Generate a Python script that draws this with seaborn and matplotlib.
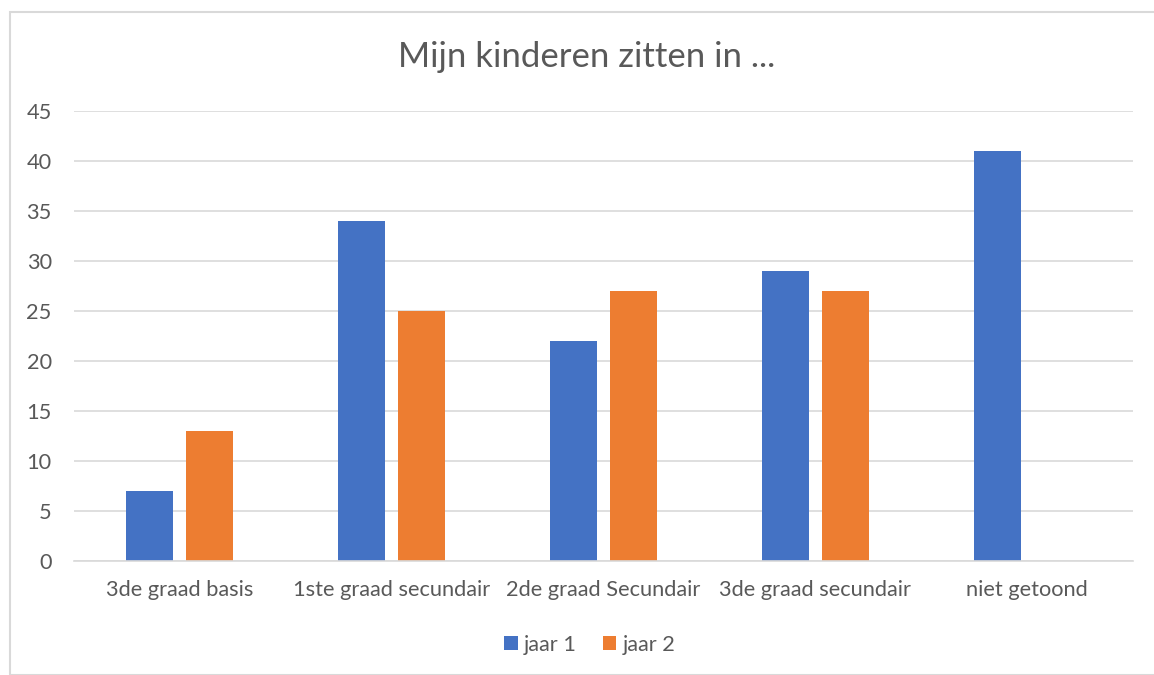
import matplotlib
matplotlib.use("Agg")
import matplotlib.pyplot as plt
import seaborn as sns
import pandas as pd
import numpy as np
from matplotlib.patches import Rectangle

categories = ["3de graad basis", "1ste graad secundair", "2de graad Secundair", "3de graad secundair", "niet getoond"]
jaar1 = [7, 34, 22, 29, 41]
jaar2 = [13, 25, 27, 27, np.nan]
series = ["jaar 1", "jaar 2"]
title = "Mijn kinderen zitten in ..."

df = pd.DataFrame({
    "cat": categories * 2,
    "val": jaar1 + jaar2,
    "serie": [series[0]] * len(categories) + [series[1]] * len(categories),
})

sns.set_theme(style="white")
plt.rcParams["font.family"] = ["Lato", "DejaVu Sans"]
text_col = "#595959"

fig = plt.figure(figsize=(11.54, 6.75), dpi=100)
ax = fig.add_axes([74/1154, 1-561/675, (1133-74)/1154, (561-111)/675])

sns.barplot(data=df, x="cat", y="val", hue="serie", order=categories, hue_order=series,
            palette=["#4472C4", "#ED7D31"], width=0.566, gap=0.215, ax=ax,
            saturation=1, errorbar=None, legend=True, linewidth=0)

ax.set_xlim(-0.5, len(categories) - 0.5)
ax.set_ylim(0, 45)
ax.set_yticks(range(0, 46, 5))
ax.yaxis.grid(True, color="#D9D9D9", linewidth=1.2)
ax.set_axisbelow(True)
for s in ["top", "right", "left"]:
    ax.spines[s].set_visible(False)
ax.spines["bottom"].set_color("#D9D9D9")
ax.spines["bottom"].set_linewidth(1.2)
ax.set_xlabel("")
ax.set_ylabel("")
ax.tick_params(axis="both", length=0, labelsize=15.7, labelcolor=text_col)
ax.tick_params(axis="y", pad=16)
ax.tick_params(axis="x", pad=14)

fig.text(587/1154, 1-57/675, title, ha="center", va="center", fontsize=25, color=text_col)

leg = ax.legend(loc="center", bbox_to_anchor=(590/1154, 1-645/675), bbox_transform=fig.transFigure,
                ncol=2, frameon=False, fontsize=15.7, handlelength=0.6, handleheight=0.6,
                handletextpad=0.3, columnspacing=1.2, labelcolor=text_col)

fig.patches.append(Rectangle((10/1154, 0), 1, 1-12/675, transform=fig.transFigure,
                             fill=False, edgecolor="#D9D9D9", linewidth=1.5))

fig.savefig("out.png", dpi=100)
